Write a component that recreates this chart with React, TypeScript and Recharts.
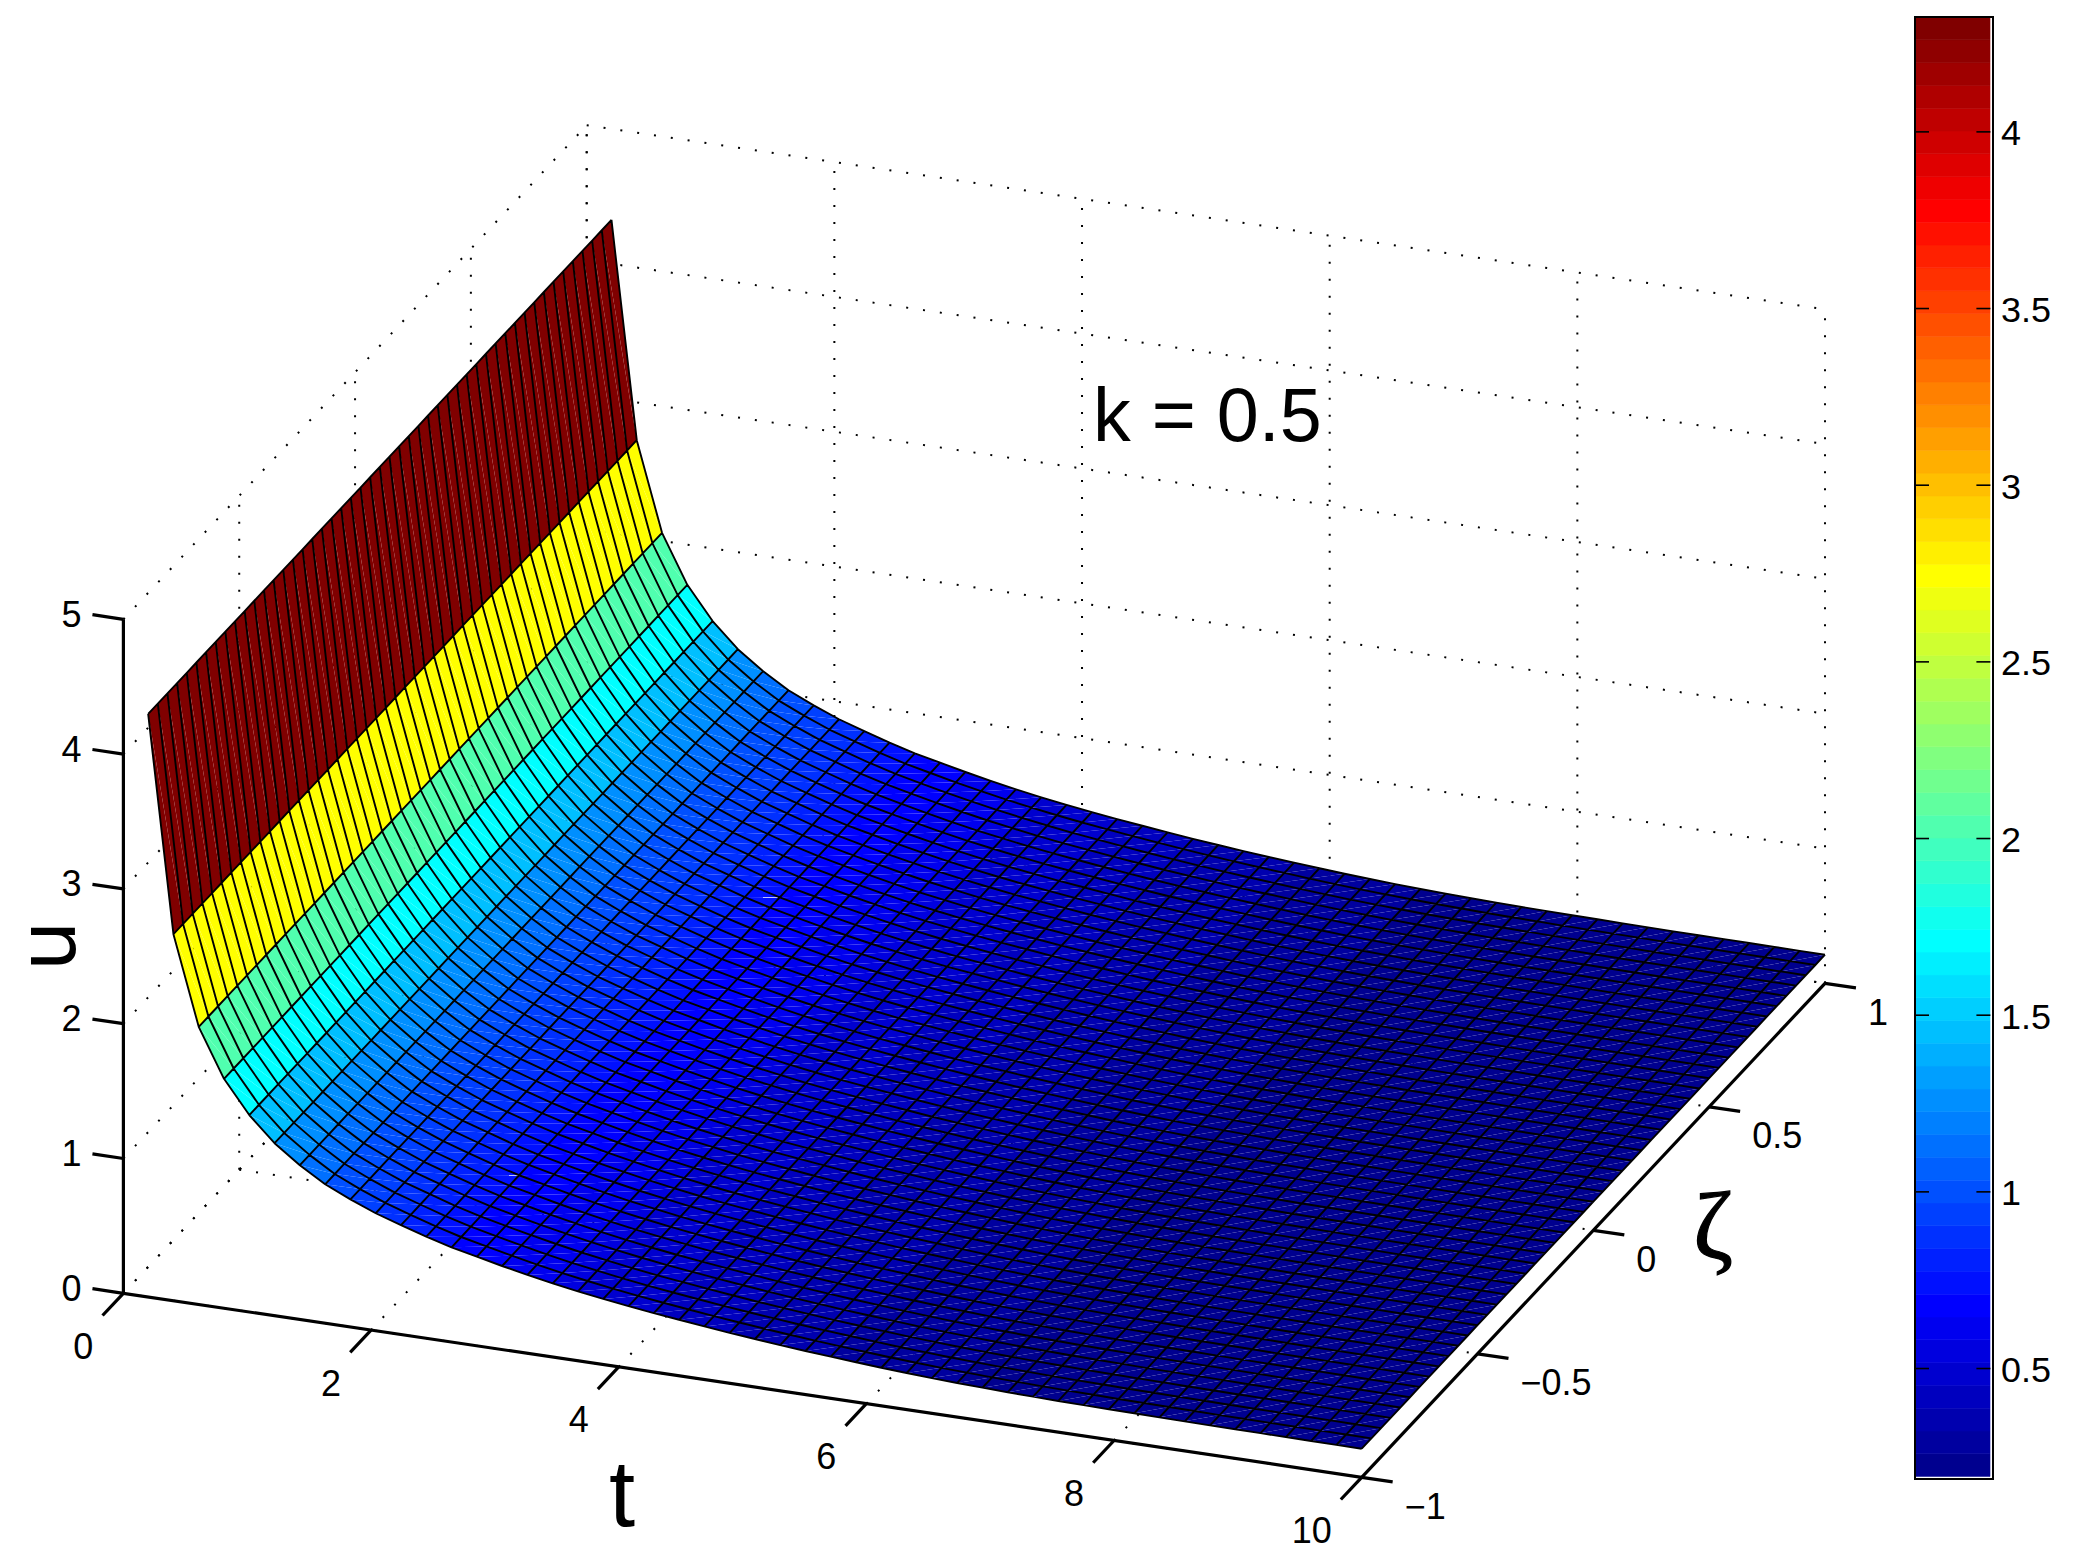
import React from "react";
import {
  Bar,
  BarChart,
  Scatter,
  ScatterChart,
  XAxis,
  YAxis,
} from "recharts";

// grid of the surface
const tValues = [
  0.2, 0.4042, 0.6083, 0.8125, 1.0167, 1.2208, 1.425, 1.6292, 1.8333, 2.0375,
  2.2417, 2.4458, 2.65, 2.8542, 3.0583, 3.2625, 3.4667, 3.6708, 3.875, 4.0792,
  4.2833, 4.4875, 4.6917, 4.8958, 5.1, 5.3042, 5.5083, 5.7125, 5.9167, 6.1208,
  6.325, 6.5292, 6.7333, 6.9375, 7.1417, 7.3458, 7.55, 7.7542, 7.9583, 8.1625,
  8.3667, 8.5708, 8.775, 8.9792, 9.1833, 9.3875, 9.5917, 9.7958, 10,
];
const zetaValues = [
  -1, -0.9583, -0.9167, -0.875, -0.8333, -0.7917, -0.75, -0.7083, -0.6667,
  -0.625, -0.5833, -0.5417, -0.5, -0.4583, -0.4167, -0.375, -0.3333, -0.2917,
  -0.25, -0.2083, -0.1667, -0.125, -0.0833, -0.0417, 0, 0.0417, 0.0833, 0.125,
  0.1667, 0.2083, 0.25, 0.2917, 0.3333, 0.375, 0.4167, 0.4583, 0.5, 0.5417,
  0.5833, 0.625, 0.6667, 0.7083, 0.75, 0.7917, 0.8333, 0.875, 0.9167, 0.9583, 1,
];
// u only changes with t
const uValues = [
  4.325, 2.719, 2.06, 1.702, 1.461, 1.28, 1.145, 1.031, 0.947, 0.872, 0.812,
  0.754, 0.703, 0.661, 0.62, 0.582, 0.547, 0.516, 0.487, 0.461, 0.438, 0.416,
  0.395, 0.375, 0.357, 0.34, 0.324, 0.31, 0.296, 0.283, 0.272, 0.262, 0.254,
  0.247, 0.241, 0.236, 0.232, 0.229, 0.226, 0.224, 0.222, 0.22, 0.218, 0.217,
  0.216, 0.215, 0.214, 0.213, 0.212,
];

const tTicks = [0, 2, 4, 6, 8, 10];
const zetaTicks = [-1, -0.5, 0, 0.5, 1];
const uTicks = [0, 1, 2, 3, 4, 5];
const colorbarTicks = [0.5, 1, 1.5, 2, 2.5, 3, 3.5, 4];

const colorbarEdges = [
  0.194, 0.2586, 0.3231, 0.3877, 0.4522, 0.5168, 0.5813, 0.6459, 0.7104, 0.775,
  0.8395, 0.9041, 0.9686, 1.0332, 1.0977, 1.1623, 1.2268, 1.2914, 1.3559,
  1.4205, 1.485, 1.5496, 1.6141, 1.6787, 1.7432, 1.8078, 1.8723, 1.9369, 2.0014,
  2.066, 2.1305, 2.1951, 2.2596, 2.3242, 2.3887, 2.4533, 2.5178, 2.5824, 2.6469,
  2.7115, 2.776, 2.8406, 2.9051, 2.9697, 3.0342, 3.0988, 3.1633, 3.2279, 3.2924,
  3.357, 3.4215, 3.4861, 3.5506, 3.6152, 3.6797, 3.7443, 3.8088, 3.8734, 3.9379,
  4.0025, 4.067, 4.1316, 4.1961, 4.2607, 4.325,
];

const FONT = "'Liberation Sans', Arial, sans-serif";
const WIDTH = 2080;
const HEIGHT = 1566;

// orthographic view, like the matlab axes
const project = (t: number, z: number, u: number) => ({
  px: 123.4 + 123.83 * t + 231.65 * (z + 1),
  py: 1293.3 + 18.4 * t - 247 * (z + 1) - 134.8 * u,
});

const seg = (a: number[], b: number[]) => [
  project(a[0], a[1], a[2]),
  project(b[0], b[1], b[2]),
];

const jet = (i: number) => {
  const n = i + 1;
  const ramp = (v: number) => Math.round(Math.max(0, Math.min(1, v)) * 255);
  const r = ramp(Math.min((n - 24) / 16, (72 - n) / 16));
  const g = ramp(Math.min((n - 8) / 16, (56 - n) / 16));
  const b = ramp(Math.min((n + 8) / 16, (40 - n) / 16));
  return `rgb(${r},${g},${b})`;
};

const colorIndex = (u: number) => {
  let idx = 0;
  for (let k = 0; k < 64; k++) if (u >= colorbarEdges[k]) idx = k;
  return idx;
};

const surfacePoints = tValues.flatMap((t, i) =>
  zetaValues.map((z) => project(t, z, uValues[i]))
);

const dottedLines = [
  ...tTicks.map((t) => seg([t, 1, 0], [t, 1, 5])),
  ...uTicks.map((u) => seg([0, 1, u], [10, 1, u])),
  ...zetaTicks.map((z) => seg([0, z, 0], [0, z, 5])),
  ...uTicks.map((u) => seg([0, -1, u], [0, 1, u])),
  ...tTicks.map((t) => seg([t, -1, 0], [t, 1, 0])),
  ...zetaTicks.map((z) => seg([0, z, 0], [10, z, 0])),
];

const axisLines = [
  seg([0, -1, 0], [0, -1, 5]),
  seg([0, -1, 0], [10, -1, 0]),
  seg([10, -1, 0], [10, 1, 0]),
  ...uTicks.map((u) => seg([0, -1, u], [-0.25, -1, u])),
  ...tTicks.map((t) => seg([t, -1, 0], [t, -1.09, 0])),
  ...zetaTicks.map((z) => seg([10, z, 0], [10.25, z, 0])),
];

const fmt = (v: number) => String(v).replace("-", "\u2212");

const uLabels = uTicks.map((u) => ({ ...project(0, -1, u), text: fmt(u) }));
const tLabels = tTicks.map((t) => ({ ...project(t, -1, 0), text: fmt(t) }));
const zetaLabels = zetaTicks.map((z) => ({ ...project(10, z, 0), text: fmt(z) }));

const noDot = () => null;

const tickText = (dx: number, dy: number, anchor: string) => (props: any) => (
  <text
    x={props.cx + dx}
    y={props.cy + dy}
    textAnchor={anchor}
    dominantBaseline="central"
    fontFamily={FONT}
    fontSize={36}
    fill="#000"
  >
    {props.payload.text}
  </text>
);

// quads as two triangles each, then the mesh lines on top
const renderSurface = (props: any) => {
  const pts = props.points;
  const nz = zetaValues.length;
  const nt = tValues.length;
  const at = (i: number, j: number) => pts[i * nz + j];
  const xy = (p: any) => `${p.x.toFixed(2)},${p.y.toFixed(2)}`;
  const faces: React.ReactNode[] = [];
  for (let i = 0; i < nt - 1; i++) {
    const fill = jet(colorIndex(uValues[i]));
    for (let j = nz - 2; j >= 0; j--) {
      const a = at(i, j);
      const b = at(i + 1, j);
      const c = at(i + 1, j + 1);
      const d = at(i, j + 1);
      faces.push(
        <path key={`a${i}-${j}`} d={`M${xy(a)}L${xy(b)}L${xy(c)}Z`} fill={fill} />,
        <path key={`b${i}-${j}`} d={`M${xy(a)}L${xy(c)}L${xy(d)}Z`} fill={fill} />
      );
    }
  }
  let mesh = "";
  for (let i = 0; i < nt; i++) {
    for (let j = 0; j < nz; j++) mesh += `${j ? "L" : "M"}${xy(at(i, j))}`;
  }
  for (let j = 0; j < nz; j++) {
    for (let i = 0; i < nt; i++) mesh += `${i ? "L" : "M"}${xy(at(i, j))}`;
  }
  return (
    <g>
      {faces}
      <path d={mesh} fill="none" stroke="#000" strokeWidth={1.9} strokeLinejoin="round" />
    </g>
  );
};

const colorbarRow: Record<string, number | string> = { name: "u" };
for (let k = 0; k < 64; k++) {
  colorbarRow[`b${k}`] = colorbarEdges[k + 1] - (k === 0 ? 0 : colorbarEdges[k]);
}

const ColorbarTick = (props: any) => {
  const { x, y, payload } = props;
  return (
    <g>
      <line x1={x - 75.4} x2={x - 61.4} y1={y} y2={y} stroke="#000" strokeWidth={1.6} />
      <line x1={x - 14} x2={x} y1={y} y2={y} stroke="#000" strokeWidth={1.6} />
      <text
        x={x + 10.5}
        y={y + 1}
        dominantBaseline="central"
        fontFamily={FONT}
        fontSize={36}
        fill="#000"
      >
        {payload.value}
      </text>
    </g>
  );
};

const App = () => (
  <div style={{ position: "absolute", left: 0, top: 0, width: WIDTH, height: HEIGHT, background: "#fff" }}>
    <ScatterChart width={WIDTH} height={HEIGHT} margin={{ top: 0, right: 0, bottom: 0, left: 0 }}>
      <XAxis type="number" dataKey="px" domain={[0, WIDTH]} hide />
      <YAxis type="number" dataKey="py" domain={[0, HEIGHT]} reversed hide />
      {dottedLines.map((d, i) => (
        <Scatter
          key={`dot${i}`}
          data={d}
          shape={noDot}
          line={{ stroke: "#000", strokeWidth: 2, strokeDasharray: "2 15" }}
          isAnimationActive={false}
        />
      ))}
      {axisLines.map((d, i) => (
        <Scatter
          key={`axis${i}`}
          data={d}
          shape={noDot}
          line={{ stroke: "#000", strokeWidth: 3.2 }}
          isAnimationActive={false}
        />
      ))}
      <Scatter data={surfacePoints} shape={noDot} line={renderSurface} isAnimationActive={false} />
      <Scatter data={uLabels} shape={tickText(-52, -5, "middle")} isAnimationActive={false} />
      <Scatter data={tLabels} shape={tickText(-30, 53, "end")} isAnimationActive={false} />
      <Scatter data={zetaLabels} shape={tickText(43, 29, "start")} isAnimationActive={false} />
      <text x={1093} y={441} fontFamily={FONT} fontSize={75.5} fill="#000">
        k = 0.5
      </text>
      <text x={622} y={1526} textAnchor="middle" fontFamily={FONT} fontSize={94} fill="#000">
        t
      </text>
      <text
        transform="translate(75 946) rotate(-90)"
        textAnchor="middle"
        fontFamily="'DejaVu Sans', sans-serif"
        fontSize={80}
        fill="#000"
      >
        u
      </text>
      <text
        x={1713}
        y={1258}
        textAnchor="middle"
        fontFamily="'Liberation Serif', serif"
        fontSize={96}
        fill="#000"
        stroke="#000"
        strokeWidth={1.2}
      >
        ζ
      </text>
    </ScatterChart>
    <div style={{ position: "absolute", left: 1915.3, top: 17.3 }}>
      <BarChart
        width={164.4}
        height={1459.7}
        data={[colorbarRow]}
        barCategoryGap={0}
        margin={{ top: 0, right: 0, bottom: 0, left: 0 }}
      >
        <XAxis dataKey="name" hide />
        <YAxis
          orientation="right"
          width={89}
          type="number"
          domain={[colorbarEdges[0], colorbarEdges[64]]}
          allowDataOverflow
          ticks={colorbarTicks}
          interval={0}
          axisLine={false}
          tickLine={false}
          tickSize={0}
          tickMargin={0}
          tick={<ColorbarTick />}
        />
        {colorbarEdges.slice(0, 64).map((_, k) => (
          <Bar
            key={k}
            dataKey={`b${k}`}
            stackId="bands"
            fill={jet(k)}
            stroke={jet(k)}
            strokeWidth={0.6}
            isAnimationActive={false}
          />
        ))}
      </BarChart>
      <div
        style={{
          position: "absolute",
          left: -1,
          top: -1,
          width: 75.4,
          height: 1459.7,
          border: "2px solid #000",
          pointerEvents: "none",
        }}
      />
    </div>
  </div>
);

export default App;
